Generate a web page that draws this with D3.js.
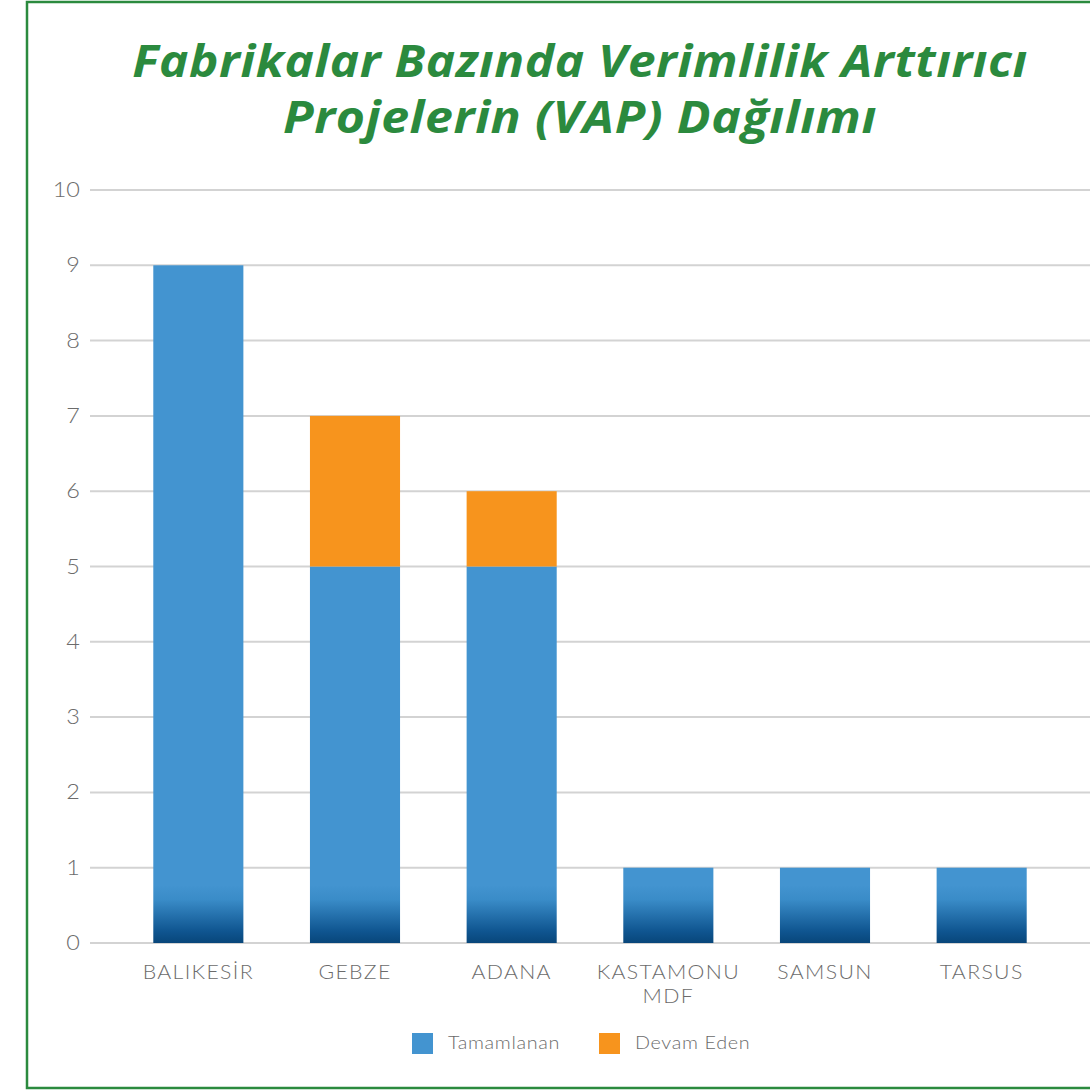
<!DOCTYPE html>
<html>
<head>
<meta charset="utf-8">
<script src="https://cdn.jsdelivr.net/npm/d3@7"></script>
<style>
  body { margin: 0; background: #fff; }
  text { font-family: Lato, "Open Sans", sans-serif; }
</style>
</head>
<body>
<svg id="chart"></svg>
<script>
// data
const factories = ['BALIKESİR', 'GEBZE', 'ADANA', 'KASTAMONU\nMDF', 'SAMSUN', 'TARSUS'];
const completed = [9, 5, 5, 1, 1, 1];
const ongoing = [0, 2, 1, 0, 0, 0];
const seriesNames = ['Tamamlanan', 'Devam Eden'];
const yTicks = [0, 1, 2, 3, 4, 5, 6, 7, 8, 9, 10];
const titleLines = ['Fabrikalar Bazında Verimlilik Arttırıcı', 'Projelerin (VAP) Dağılımı'];

const width = 1090;
const height = 1090;
const green = '#2b8a3e';
const blue = '#4394d0';
const orange = '#f7941d';
const grey = '#6b6b6b';

const svg = d3.select('#chart')
  .attr('width', width)
  .attr('height', height);

// frame (open on the right side)
svg.append('path')
  .attr('d', `M${width},2 H27 V1088 H${width}`)
  .attr('fill', 'none')
  .attr('stroke', green)
  .attr('stroke-width', 2.5);

// title: the original face is wider, so stretch each line to its width in the picture
const titleWidths = [896, 594];
svg.append('g')
  .selectAll('text')
  .data(titleLines)
  .enter()
  .append('text')
  .attr('text-anchor', 'middle')
  .attr('fill', green)
  .style('font-family', '"Open Sans", sans-serif')
  .style('font-weight', 700)
  .style('font-style', 'italic')
  .style('font-size', '44px')
  .style('letter-spacing', '0.5px')
  .text(d => d)
  .attr('transform', function (d, i) {
    const k = titleWidths[i] / this.getComputedTextLength();
    return `translate(580, ${77 + i * 56}) scale(${k}, 1)`;
  });

const y = d3.scaleLinear().domain([0, 10]).range([943, 190]);
const x = d3.scaleBand()
  .domain(factories)
  .range([120, 1060])
  .paddingInner(0.425)
  .paddingOuter(0.2125);

// grid lines
svg.append('g')
  .selectAll('line')
  .data(yTicks)
  .enter()
  .append('line')
  .attr('x1', 90)
  .attr('x2', width)
  .attr('y1', d => y(d))
  .attr('y2', d => y(d))
  .attr('stroke', '#d3d3d3')
  .attr('stroke-width', 2);

// y tick labels
svg.append('g')
  .selectAll('text')
  .data(yTicks)
  .enter()
  .append('text')
  .attr('text-anchor', 'end')
  .attr('transform', d => `translate(80, ${y(d) + 7}) scale(1.12, 1)`)
  .attr('fill', grey)
  .style('font-weight', 300)
  .style('font-size', '21px')
  .text(d => d);

// dark fade at the foot of the blue bars
const defs = svg.append('defs');
const grad = defs.append('linearGradient')
  .attr('id', 'footFade')
  .attr('gradientUnits', 'userSpaceOnUse')
  .attr('x1', 0).attr('x2', 0)
  .attr('y1', y(0) - 58).attr('y2', y(0));
grad.append('stop').attr('offset', '0%').attr('stop-color', blue);
grad.append('stop').attr('offset', '25%').attr('stop-color', '#3a8cc8');
grad.append('stop').attr('offset', '80%').attr('stop-color', '#0f5590');
grad.append('stop').attr('offset', '100%').attr('stop-color', '#08467a');

const rows = factories.map((f, i) => ({ name: f, done: completed[i], going: ongoing[i] }));
const bars = svg.append('g')
  .selectAll('g')
  .data(rows)
  .enter()
  .append('g');

bars.append('rect')
  .attr('x', d => x(d.name))
  .attr('width', x.bandwidth())
  .attr('y', d => y(d.done))
  .attr('height', d => y(0) - y(d.done))
  .attr('fill', 'url(#footFade)');

bars.filter(d => d.going > 0)
  .append('rect')
  .attr('x', d => x(d.name))
  .attr('width', x.bandwidth())
  .attr('y', d => y(d.done + d.going))
  .attr('height', d => y(d.done) - y(d.done + d.going))
  .attr('fill', orange);

// x labels
svg.append('g')
  .selectAll('g')
  .data(factories)
  .enter()
  .append('g')
  .attr('transform', d => `translate(${x(d) + x.bandwidth() / 2}, 979) scale(1.12, 1)`)
  .each(function (d) {
    const g = d3.select(this);
    d.split('\n').forEach((line, i) => {
      g.append('text')
        .attr('y', i * 24)
        .attr('text-anchor', 'middle')
        .attr('fill', grey)
        .style('font-weight', 300)
        .style('font-size', '19px')
        .style('letter-spacing', '1.2px')
        .text(line);
    });
  });

// legend
const legend = svg.append('g')
  .selectAll('g')
  .data(seriesNames)
  .enter()
  .append('g')
  .attr('transform', (d, i) => `translate(${412 + i * 187}, 1033)`);

legend.append('rect')
  .attr('width', 21)
  .attr('height', 21)
  .attr('fill', (d, i) => i === 0 ? blue : orange);

legend.append('text')
  .attr('transform', 'translate(36, 16) scale(1.1, 1)')
  .attr('fill', grey)
  .style('font-weight', 300)
  .style('font-size', '18px')
  .style('letter-spacing', '0.6px')
  .text(d => d);
</script>
</body>
</html>
